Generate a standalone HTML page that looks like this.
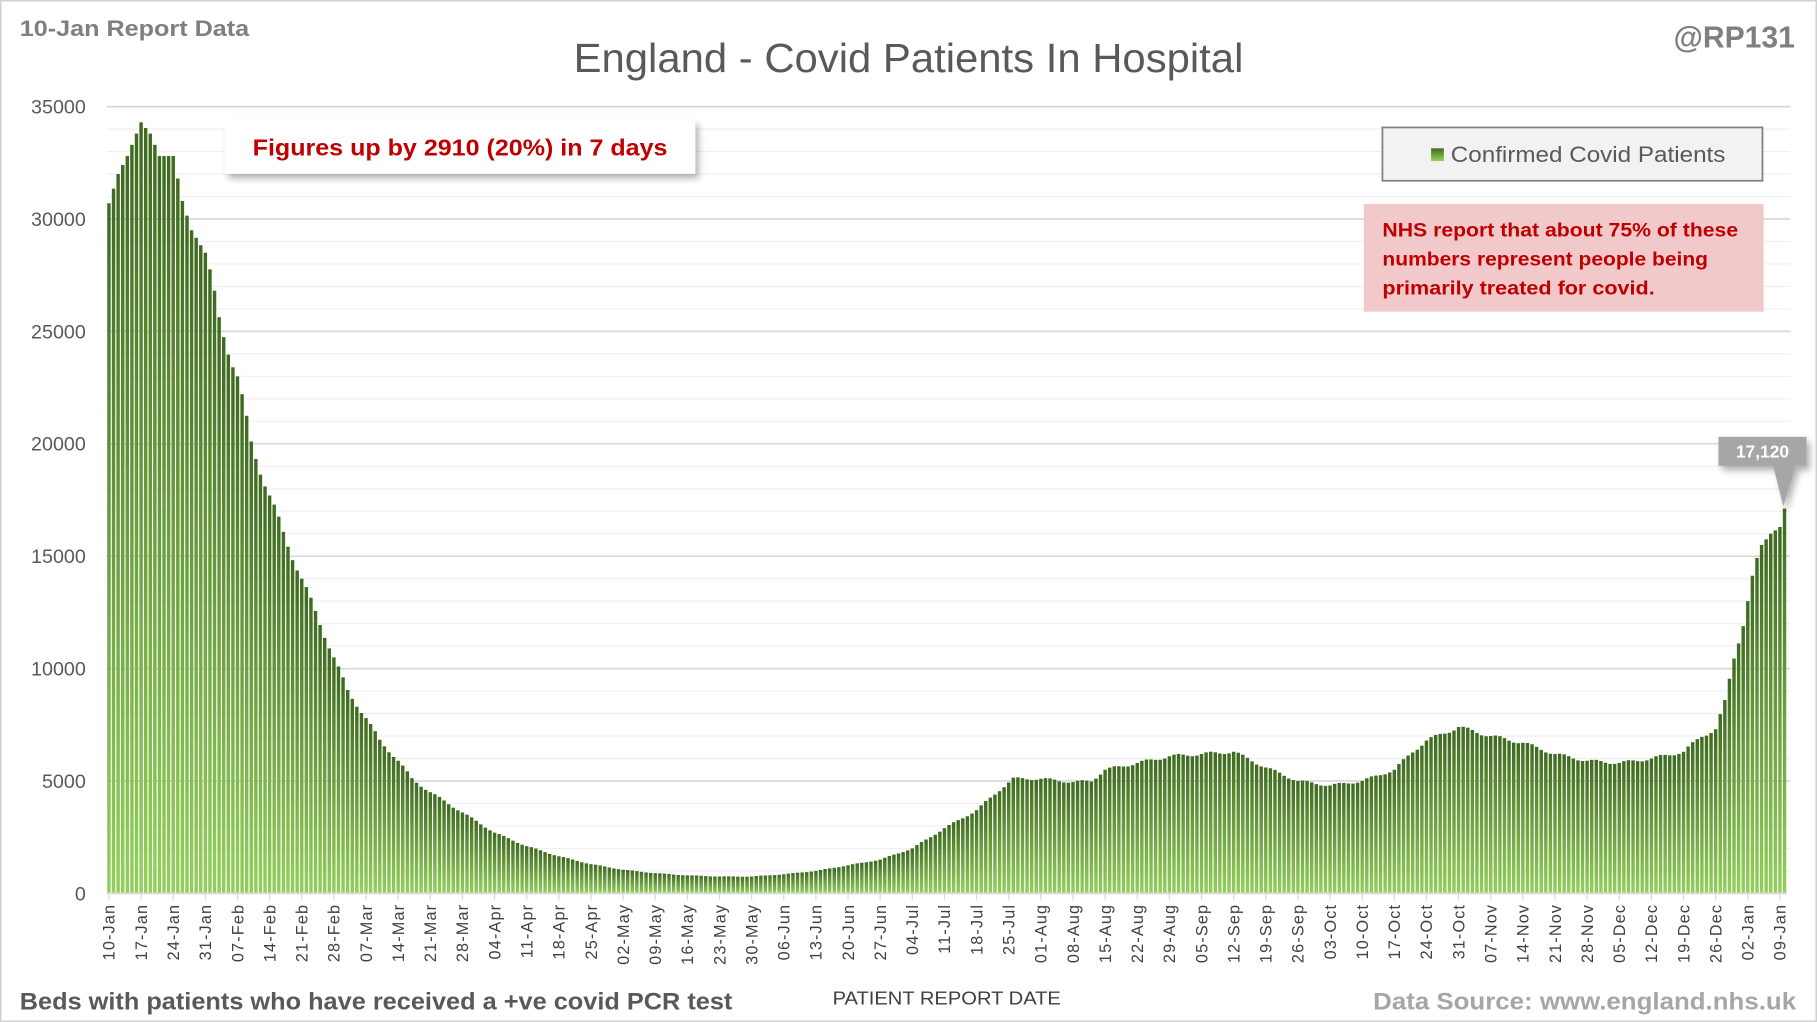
<!DOCTYPE html>
<html><head><meta charset="utf-8"><style>
html,body{margin:0;padding:0;background:#fff}
svg{display:block}
text{font-family:"Liberation Sans",sans-serif}
</style></head><body>
<svg id="s" width="1817" height="1022" viewBox="0 0 1568 882" xmlns="http://www.w3.org/2000/svg">
<defs>
<linearGradient id="g" x1="0" y1="0" x2="0" y2="1">
<stop offset="0" stop-color="#3d6a1f"/><stop offset="1" stop-color="#93d05a"/>
</linearGradient>
<filter id="sh" x="-10%" y="-30%" width="130%" height="170%"><feDropShadow dx="3" dy="4" stdDeviation="3" flood-color="#000" flood-opacity="0.3"/></filter>
</defs>
<rect x="0.5" y="0.5" width="1567" height="881" fill="#fff" stroke="#d0d0d0" stroke-width="1.5"/>
<g id="grid"></g>
<g id="bars"></g>
<g id="ticks"></g>
<text x="17" y="31" font-size="19" font-weight="bold" fill="#7f7f7f" textLength="198" lengthAdjust="spacingAndGlyphs">10-Jan Report Data</text>
<text x="784" y="62" font-size="35" fill="#595959" text-anchor="middle" textLength="578" lengthAdjust="spacingAndGlyphs">England - Covid Patients In Hospital</text>
<text x="1549" y="41" font-size="26" font-weight="bold" fill="#7f7f7f" text-anchor="end">@RP131</text>
<rect x="194" y="104" width="406" height="46" fill="#fff" filter="url(#sh)"/>
<text x="397" y="134" font-size="20" font-weight="bold" fill="#c00000" text-anchor="middle" textLength="358" lengthAdjust="spacingAndGlyphs">Figures up by 2910 (20%) in 7 days</text>
<rect x="1193" y="110" width="328" height="46" fill="#f2f2f2" stroke="#7f7f7f" stroke-width="1.5"/>
<rect x="1235" y="128" width="11" height="11" fill="url(#g)"/>
<text x="1252" y="140" font-size="19" fill="#595959" textLength="237" lengthAdjust="spacingAndGlyphs">Confirmed Covid Patients</text>
<rect x="1177" y="176" width="345" height="93" fill="#f2c9cb"/>
<g font-size="17" font-weight="bold" fill="#c00000">
<text x="1193" y="204" textLength="307" lengthAdjust="spacingAndGlyphs">NHS report that about 75% of these</text>
<text x="1193" y="229" textLength="281" lengthAdjust="spacingAndGlyphs">numbers represent people being</text>
<text x="1193" y="254" textLength="235" lengthAdjust="spacingAndGlyphs">primarily treated for covid.</text>
</g>
<g filter="url(#sh)">
<rect x="1483" y="377" width="76" height="25" fill="#a6a6a6"/>
<polygon points="1530,401 1550,401 1539,437" fill="#a6a6a6"/>
</g>
<text x="1521" y="395" font-size="15" font-weight="bold" fill="#fff" text-anchor="middle">17,120</text>
<text x="17" y="871" font-size="21" font-weight="bold" fill="#595959" textLength="615" lengthAdjust="spacingAndGlyphs">Beds with patients who have received a +ve covid PCR test</text>
<text x="817" y="867" font-size="16" fill="#404040" text-anchor="middle" textLength="197" lengthAdjust="spacingAndGlyphs">PATIENT REPORT DATE</text>
<text x="1550" y="871" font-size="21" font-weight="bold" fill="#a6a6a6" text-anchor="end" textLength="365" lengthAdjust="spacingAndGlyphs">Data Source: www.england.nhs.uk</text>
</svg>
<script>
(function(){
var NS="http://www.w3.org/2000/svg";
function el(t,a,p,txt){var e=document.createElementNS(NS,t);for(var k in a)e.setAttribute(k,a[k]);if(txt!=null)e.textContent=txt;p.appendChild(e);return e;}
var x0=92,x1=1542,y0=771,N=366,slot=(x1-x0)/N;
function Y(v){return y0-v/5000*97;}
var grid=document.getElementById('grid');
for(var v=1000;v<=35000;v+=1000){
 var maj=v%5000==0;
 el('line',{x1:x0,x2:1545,y1:Y(v),y2:Y(v),stroke:maj?'#d9d9d9':'#efefef','stroke-width':maj?1.5:1},grid);
}
for(var v=0;v<=35000;v+=5000){
 el('text',{x:74,y:Y(v)+6,'font-size':17,fill:'#595959','text-anchor':'end'},grid,String(v));
}
var kp=[[0,30700],[2,32000],[4,32800],[7,34300],[9,33800],[11,32800],[14,32800],[16,30800],[18,29500],[21,28500],[24,25500],[28,23000],[31,20000],[35,17700],[38,16000],[42,14000],[45,12500],[49,10500],[52,9000],[56,7800],[59,6800],[63,5900],[66,5100],[70,4500],[77,3600],[84,2700],[91,2100],[98,1650],[105,1300],[112,1050],[119,900],[126,800],[133,750],[140,750],[147,850],[154,1000],[161,1250],[168,1500],[175,2000],[182,2900],[189,3700],[194,4600],[197,5100],[203,5100],[210,4950],[214,5000],[217,5500],[224,5800],[231,6100],[238,6200],[245,6300],[252,5600],[259,5000],[266,4800],[273,5000],[280,5500],[284,6300],[287,6800],[294,7400],[301,7000],[308,6700],[315,6200],[322,5900],[329,5800],[336,6000],[343,6300],[347,7000],[350,7300],[352,8500],[354,10500],[356,12000],[358,14000],[360,15500],[362,16000],[364,16300],[365,17120]];
function val(d){for(var i=0;i<kp.length-1;i++){if(d>=kp[i][0]&&d<=kp[i+1][0]){var t=(d-kp[i][0])/(kp[i+1][0]-kp[i][0]);return kp[i][1]+t*(kp[i+1][1]-kp[i][1]);}}return kp[kp.length-1][1];}
var bars=document.getElementById('bars');
for(var d=0;d<N;d++){
 var v=val(d);
 if(d>20&&d<360){v*=1+0.012*Math.sin(d*2*Math.PI/7);}
 var x=x0+d*slot+0.5,w=slot-1.0,y=Y(v);
 el('rect',{x:x.toFixed(2),y:y.toFixed(2),width:w.toFixed(2),height:(y0-y).toFixed(2),fill:'url(#g)'},bars);
}
var tk=document.getElementById('ticks');
el('line',{x1:x0,x2:x1,y1:y0,y2:y0,stroke:'#d9d9d9','stroke-width':1.5},tk);
var mon=['Jan','Feb','Mar','Apr','May','Jun','Jul','Aug','Sep','Oct','Nov','Dec'];
var start=new Date(2021,0,10);
for(var w=0;w<=52;w++){
 var d=w*7,dt=new Date(start.getTime()+d*86400000);
 var cx=x0+(d+0.5)*slot;
 el('line',{x1:cx,x2:cx,y1:y0,y2:y0+6,stroke:'#d9d9d9','stroke-width':1},tk);
 var lbl=('0'+dt.getDate()).slice(-2)+'-'+mon[dt.getMonth()];
 el('text',{x:0,y:0,'font-size':14,fill:'#404040','text-anchor':'end','letter-spacing':'1',transform:'translate('+(cx+5)+','+(y0+9)+') rotate(-90)'},tk,lbl);
}
})();
</script>
</body></html>
